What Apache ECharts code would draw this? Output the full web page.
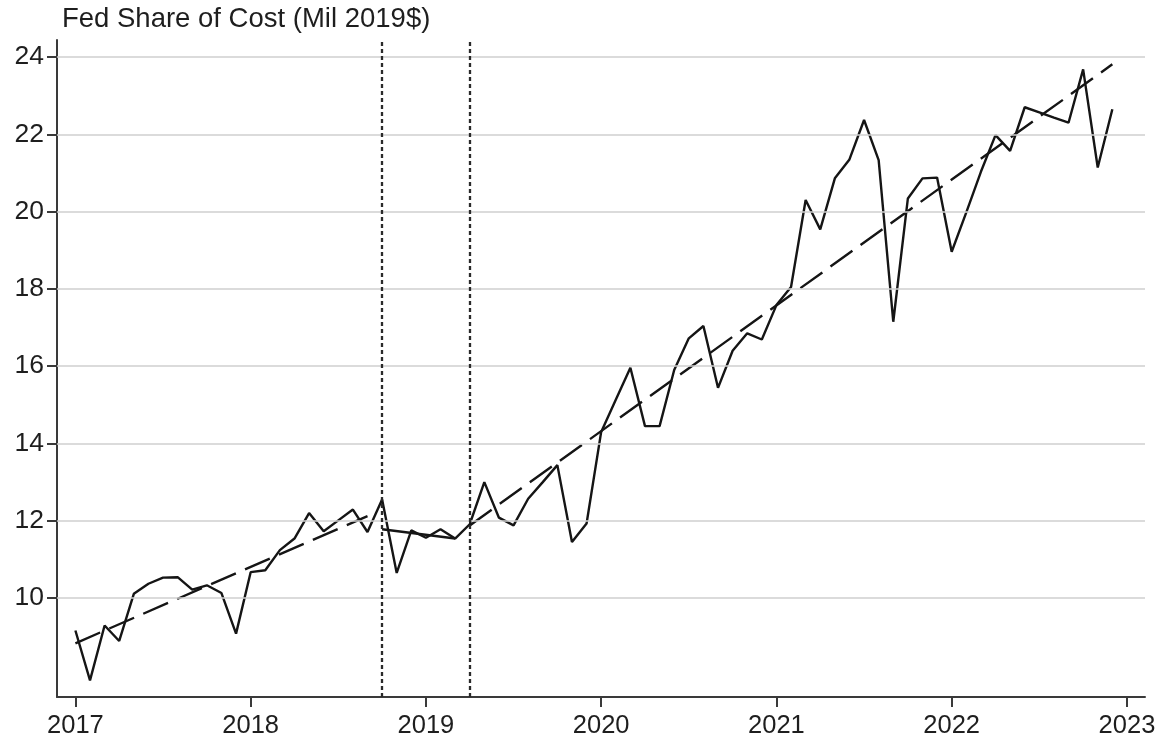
<!DOCTYPE html>
<html>
<head>
<meta charset="utf-8">
<script src="https://cdn.jsdelivr.net/npm/echarts@6/dist/echarts.min.js"></script>
<style>
  html, body { margin: 0; padding: 0; background: #fff; }
  #chart { width: 1164px; height: 749px; }
</style>
</head>
<body>
<div id="chart"></div>
<script>
// Monthly federal share of cost, millions of 2019 dollars, Jan 2017 – Dec 2022
const startYear = 2017;
const fedShare = [
  9.16, 7.87, 9.29, 8.89, 10.11, 10.37, 10.53, 10.54, 10.22, 10.33, 10.13, 9.08,
  10.67, 10.72, 11.24, 11.54, 12.20, 11.73, 12.01, 12.29, 11.71, 12.55, 10.65, 11.75,
  11.56, 11.78, 11.54, 11.91, 13.00, 12.08, 11.88, 12.57, 13.00, 13.44, 11.45, 11.93,
  14.30, 15.13, 15.96, 14.45, 14.45, 15.90, 16.72, 17.04, 15.44, 16.40, 16.85, 16.69,
  17.58, 18.05, 20.30, 19.54, 20.86, 21.35, 22.37, 21.33, 17.15, 20.34, 20.86, 20.88,
  18.96, 19.98, 21.03, 21.98, 21.57, 22.70, 22.57, 22.43, 22.30, 23.68, 21.14, 22.65
];

// Fitted linear trends for the three periods: [year, value] end points
const trendBefore = [[2017.0, 8.83], [2018 + 8 / 12, 12.12]];
const trendBetween = [[2018 + 9 / 12, 11.78], [2019 + 2 / 12, 11.54]];
const trendAfter = [[2019 + 3 / 12, 11.88], [2022 + 11 / 12, 23.81]];

// Period boundaries (Oct 2018, Apr 2019)
const breakDates = [2018.75, 2019.25];

const yTicks = [10, 12, 14, 16, 18, 20, 22, 24];
const xTicks = [2017, 2018, 2019, 2020, 2021, 2022, 2023];
const titleText = 'Fed Share of Cost (Mil 2019$)';

const points = fedShare.map((v, i) => [startYear + i / 12, v]);

const axisColor = '#3a3a3a';
const textColor = '#1e1e1e';
const lineColor = '#151515';
const fontFamily = '"Liberation Sans", Arial, sans-serif';

const chart = echarts.init(document.getElementById('chart'), null, { renderer: 'canvas' });

chart.setOption({
  animation: false,
  backgroundColor: '#fff',
  title: {
    text: titleText,
    left: 62,
    top: 5,
    padding: 0,
    textStyle: { fontSize: 27.5, fontWeight: 'normal', color: textColor, fontFamily: fontFamily }
  },
  grid: { left: 57, right: 19, top: 40, bottom: 52, containLabel: false },
  xAxis: {
    type: 'value',
    min: 2016.895,
    max: 2023.103,
    axisLine: { show: true, lineStyle: { color: axisColor, width: 2 } },
    axisTick: { show: true, length: 10, customValues: xTicks, lineStyle: { color: axisColor, width: 2 } },
    axisLabel: {
      customValues: xTicks,
      margin: 16,
      fontSize: 25.5,
      color: textColor,
      fontFamily: fontFamily,
      formatter: v => String(Math.round(v))
    },
    splitLine: { show: false }
  },
  yAxis: {
    type: 'value',
    min: 7.44,
    max: 24.44,
    axisLine: { show: true, lineStyle: { color: axisColor, width: 2 } },
    axisTick: { show: true, length: 10, customValues: yTicks, lineStyle: { color: axisColor, width: 2 } },
    axisLabel: {
      customValues: yTicks,
      margin: 13,
      fontSize: 26.5,
      color: textColor,
      fontFamily: fontFamily,
      formatter: v => String(Math.round(v))
    },
    splitLine: { show: false }
  },
  series: [
    {
      // horizontal grid lines and period boundary markers
      type: 'line',
      data: [],
      silent: true,
      z: 1,
      markLine: {
        silent: true,
        symbol: 'none',
        label: { show: false },
        emphasis: { disabled: true },
        data: yTicks.map(v => ({ yAxis: v, lineStyle: { color: '#cfcfcf', width: 1.5, type: 'solid' } }))
          .concat(breakDates.map(d => ({ xAxis: d, lineStyle: { color: '#2a2a2a', width: 2.3, type: [4, 3] } })))
      }
    },
    {
      name: 'Fed share',
      type: 'line',
      data: points,
      showSymbol: false,
      z: 3,
      lineStyle: { color: lineColor, width: 2.4 }
    },
    {
      name: 'Trend 1',
      type: 'line',
      data: trendBefore,
      showSymbol: false,
      z: 4,
      lineStyle: { color: lineColor, width: 2.4, type: [27, 10] }
    },
    {
      name: 'Trend 2',
      type: 'line',
      data: trendBetween,
      showSymbol: false,
      z: 4,
      lineStyle: { color: lineColor, width: 2.4, type: 'solid' }
    },
    {
      name: 'Trend 3',
      type: 'line',
      data: trendAfter,
      showSymbol: false,
      z: 4,
      lineStyle: { color: lineColor, width: 2.4, type: [27, 10] }
    }
  ]
});
</script>
</body>
</html>
